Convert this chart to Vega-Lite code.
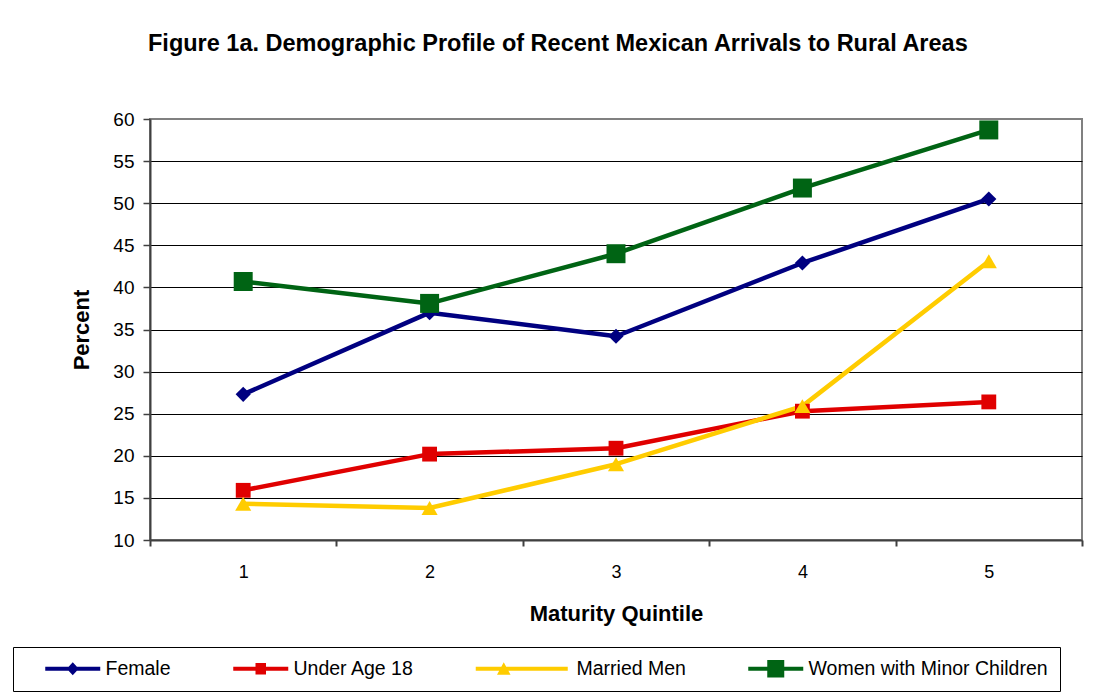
{
  "$schema": "https://vega.github.io/schema/vega-lite/v6.json",
  "autosize": {"type": "none"},
  "width": 932,
  "height": 421,
  "padding": {"left": 150, "top": 119, "right": 24, "bottom": 160},
  "background": "#ffffff",
  "title": {
    "text": "Figure 1a. Demographic Profile of Recent Mexican Arrivals to Rural Areas",
    "anchor": "start",
    "frame": "group",
    "dx": -2,
    "offset": 55,
    "font": "Liberation Sans",
    "fontSize": 23.5,
    "fontWeight": "bold",
    "color": "#000000"
  },
  "data": {
    "values": [
      {"q": 1, "series": "Female", "v": 27.3},
      {"q": 2, "series": "Female", "v": 37.0},
      {"q": 3, "series": "Female", "v": 34.2},
      {"q": 4, "series": "Female", "v": 42.9},
      {"q": 5, "series": "Female", "v": 50.5},
      {"q": 1, "series": "Under Age 18", "v": 15.9},
      {"q": 2, "series": "Under Age 18", "v": 20.2},
      {"q": 3, "series": "Under Age 18", "v": 20.9},
      {"q": 4, "series": "Under Age 18", "v": 25.3},
      {"q": 5, "series": "Under Age 18", "v": 26.4},
      {"q": 1, "series": "Married Men", "v": 14.3},
      {"q": 2, "series": "Married Men", "v": 13.8},
      {"q": 3, "series": "Married Men", "v": 19.0},
      {"q": 4, "series": "Married Men", "v": 25.9},
      {"q": 5, "series": "Married Men", "v": 43.1},
      {"q": 1, "series": "Women with Minor Children", "v": 40.7},
      {"q": 2, "series": "Women with Minor Children", "v": 38.1},
      {"q": 3, "series": "Women with Minor Children", "v": 44.0},
      {"q": 4, "series": "Women with Minor Children", "v": 51.8},
      {"q": 5, "series": "Women with Minor Children", "v": 58.7}
    ]
  },
  "encoding": {
    "x": {
      "field": "q",
      "type": "ordinal",
      "scale": {"type": "band", "paddingInner": 0, "paddingOuter": 0},
      "axis": {
        "title": "Maturity Quintile",
        "labelAngle": 0,
        "tickBand": "extent",
        "grid": false,
        "domainColor": "#404040",
        "domainWidth": 2,
        "tickColor": "#404040",
        "tickWidth": 2,
        "tickSize": 6,
        "labelPadding": 17,
        "labelFont": "Liberation Sans",
        "labelFontSize": 18,
        "labelColor": "#000000",
        "titleFont": "Liberation Sans",
        "titleFontSize": 22,
        "titleFontWeight": "bold",
        "titleColor": "#000000",
        "titlePadding": 22
      }
    },
    "y": {
      "field": "v",
      "type": "quantitative",
      "scale": {"domain": [10, 60], "nice": false, "zero": false},
      "axis": {
        "title": "Percent",
        "values": [10, 15, 20, 25, 30, 35, 40, 45, 50, 55, 60],
        "grid": true,
        "gridColor": {"condition": {"test": "datum.value >= 60 || datum.value <= 10", "value": "rgba(0,0,0,0)"}, "value": "#000000"},
        "gridWidth": 1,
        "domainColor": "#404040",
        "domainWidth": 2,
        "tickColor": "#404040",
        "tickWidth": 1.5,
        "tickSize": 7,
        "labelPadding": 9,
        "labelFont": "Liberation Sans",
        "labelFontSize": 19,
        "labelColor": "#000000",
        "titleFont": "Liberation Sans",
        "titleFontSize": 22,
        "titleFontWeight": "bold",
        "titleColor": "#000000",
        "titlePadding": 19
      }
    },
    "color": {
      "field": "series",
      "type": "nominal",
      "scale": {
        "domain": ["Female", "Under Age 18", "Married Men", "Women with Minor Children"],
        "range": ["#000080", "#e00000", "#ffcc00", "#006414"]
      },
      "legend": {
        "title": null,
        "orient": "none",
        "legendX": -137,
        "legendY": 528,
        "direction": "horizontal",
        "columns": 4,
        "gridAlign": "none",
        "columnPadding": 42,
        "padding": 12,
        "strokeColor": "#000000",
        "fillColor": "#ffffff",
        "symbolSize": 100,
        "symbolStrokeWidth": 0,
        "symbolOffset": 38,
        "labelOffset": 23,
        "labelFont": "Liberation Sans",
        "labelFontSize": 19.5,
        "labelColor": "#000000",
        "labelLimit": 600,
        "encode": {
          "symbols": {
            "update": {
              "shape": {"signal": "datum.value === 'Female' ? 'M-5.5,-0.42H5.5V0.42H-5.5Z M0,-1.3L1.2,0L0,1.3L-1.2,0Z' : datum.value === 'Under Age 18' ? 'M-5.5,-0.42H5.5V0.42H-5.5Z M-1.05,-1.15H1.05V1.15H-1.05Z' : datum.value === 'Married Men' ? 'M-5.6,-0.42H12.8V0.42H-5.6Z M0,-1.3L1.35,1.2L-1.35,1.2Z' : 'M-5.5,-0.42H5.5V0.42H-5.5Z M-1.7,-1.75H1.7V1.75H-1.7Z'"},
              "size": {"value": 100},
              "fill": {"signal": "scale('color', datum.value)"},
              "opacity": {"value": 1},
              "strokeWidth": {"value": 0}
            }
          },
          "labels": {
            "update": {
              "text": {"signal": "datum.label === 'Women with Minor Children' ? datum.label + '\u00a0\u00a0\u00a0\u00a0\u00a0\u00a0\u00a0\u00a0\u00a0\u00a0' : datum.label"},
              "dx": {"signal": "datum.value === 'Married Men' ? 40 : 0"}
            }
          }
        }
      }
    }
  },
  "layer": [
    {
      "mark": {"type": "line", "strokeWidth": 4.5, "strokeJoin": "round"}
    },
    {
      "transform": [{"filter": "datum.series === 'Female'"}],
      "mark": {"type": "point", "shape": "diamond", "size": 230, "filled": true, "opacity": 1}
    },
    {
      "transform": [{"filter": "datum.series === 'Under Age 18'"}],
      "mark": {"type": "point", "shape": "square", "size": 220, "filled": true, "opacity": 1}
    },
    {
      "transform": [{"filter": "datum.series === 'Married Men'"}],
      "mark": {"type": "point", "shape": "triangle-up", "size": 260, "filled": true, "opacity": 1}
    },
    {
      "transform": [{"filter": "datum.series === 'Women with Minor Children'"}],
      "mark": {"type": "point", "shape": "square", "size": 360, "filled": true, "opacity": 1}
    }
  ],
  "config": {
    "view": {"stroke": "#808080", "strokeWidth": 2, "fill": "#ffffff"}
  }
}
